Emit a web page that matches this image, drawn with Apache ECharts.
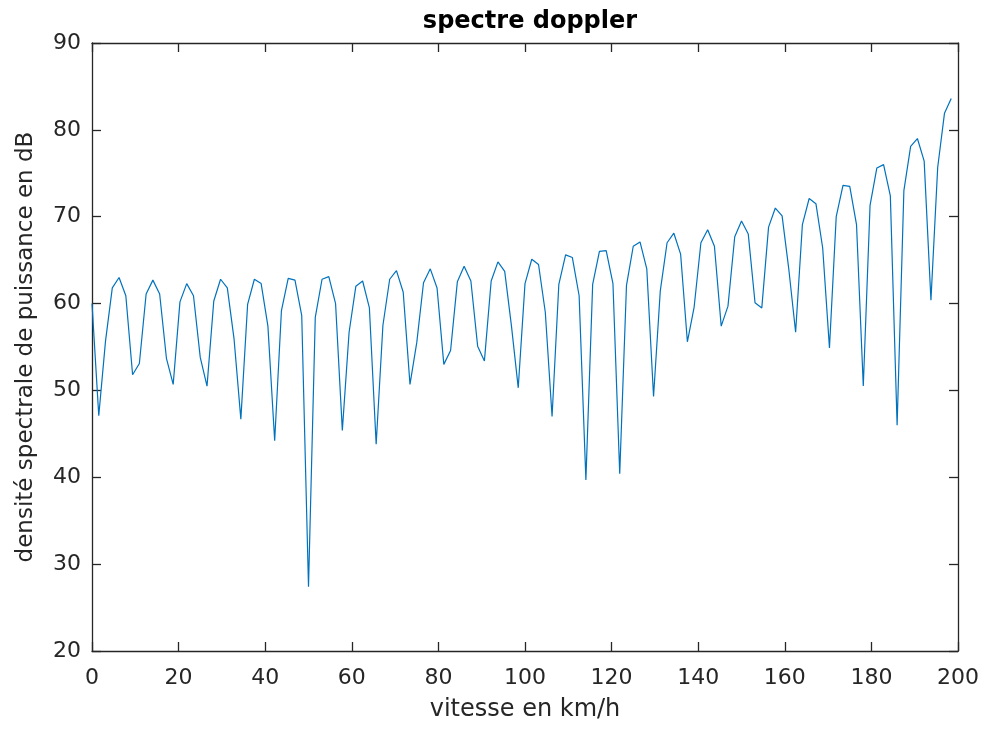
<!DOCTYPE html>
<html>
<head>
<meta charset="utf-8">
<script src="https://cdn.jsdelivr.net/npm/echarts@6/dist/echarts.min.js"></script>
<style>
  html, body { margin: 0; padding: 0; background: #ffffff; }
  #chart { width: 984px; height: 729px; }
</style>
</head>
<body>
<div id="chart"></div>
<script>
// Speed samples (km/h)
const speeds = [
  0, 1.5625, 3.125, 4.6875, 6.25, 7.8125, 9.375, 10.9375, 12.5, 14.0625, 15.625, 17.1875, 18.75, 20.3125, 21.875, 23.4375,
  25, 26.5625, 28.125, 29.6875, 31.25, 32.8125, 34.375, 35.9375, 37.5, 39.0625, 40.625, 42.1875, 43.75, 45.3125, 46.875, 48.4375,
  50, 51.5625, 53.125, 54.6875, 56.25, 57.8125, 59.375, 60.9375, 62.5, 64.0625, 65.625, 67.1875, 68.75, 70.3125, 71.875, 73.4375,
  75, 76.5625, 78.125, 79.6875, 81.25, 82.8125, 84.375, 85.9375, 87.5, 89.0625, 90.625, 92.1875, 93.75, 95.3125, 96.875, 98.4375,
  100, 101.5625, 103.125, 104.6875, 106.25, 107.8125, 109.375, 110.9375, 112.5, 114.0625, 115.625, 117.1875, 118.75, 120.3125, 121.875, 123.4375,
  125, 126.5625, 128.125, 129.6875, 131.25, 132.8125, 134.375, 135.9375, 137.5, 139.0625, 140.625, 142.1875, 143.75, 145.3125, 146.875, 148.4375,
  150, 151.5625, 153.125, 154.6875, 156.25, 157.8125, 159.375, 160.9375, 162.5, 164.0625, 165.625, 167.1875, 168.75, 170.3125, 171.875, 173.4375,
  175, 176.5625, 178.125, 179.6875, 181.25, 182.8125, 184.375, 185.9375, 187.5, 189.0625, 190.625, 192.1875, 193.75, 195.3125, 196.875, 198.4375
];

// Power spectral density (dB)
const psdDb = [
  60.0, 47.1, 55.7, 61.8, 63.0, 60.9, 51.8, 53.1, 61.1, 62.7, 61.1, 53.7, 50.7, 60.2, 62.3, 60.9,
  53.8, 50.5, 60.3, 62.8, 61.8, 55.9, 46.7, 59.9, 62.8, 62.3, 57.4, 44.2, 59.2, 62.9, 62.7, 58.6,
  27.4, 58.4, 62.8, 63.1, 60.0, 45.4, 56.7, 62.0, 62.6, 59.5, 43.8, 57.5, 62.8, 63.8, 61.3, 50.7,
  55.5, 62.4, 64.0, 61.8, 53.0, 54.6, 62.5, 64.3, 62.6, 55.1, 53.4, 62.6, 64.8, 63.7, 57.4, 50.3,
  62.3, 65.1, 64.5, 59.0, 47.0, 62.2, 65.6, 65.3, 60.9, 39.7, 62.2, 66.0, 66.1, 62.3, 40.4, 62.1,
  66.6, 67.1, 64.0, 49.3, 61.5, 67.0, 68.1, 65.7, 55.6, 59.6, 67.0, 68.5, 66.6, 57.4, 59.7, 67.7,
  69.5, 68.0, 60.1, 59.5, 68.8, 71.0, 70.1, 63.9, 56.7, 69.1, 72.1, 71.5, 66.4, 54.9, 70.0, 73.6,
  73.5, 69.1, 50.5, 71.3, 75.6, 76.0, 72.4, 46.0, 73.0, 78.1, 79.0, 76.4, 60.4, 75.7, 81.9, 83.6
];

const titleText = 'spectre doppler';
const xLabel = 'vitesse en km/h';
const yLabel = 'densité spectrale de puissance en dB';

const FONT = '"DejaVu Sans", "Liberation Sans", Arial, sans-serif';
const INK = '#262626';

const chart = echarts.init(document.getElementById('chart'), null, { renderer: 'canvas' });

const baseLine = { show: true, onZero: false, lineStyle: { color: INK, width: 1.3 } };
const innerTick = { show: true, inside: true, length: 9, lineStyle: { color: INK, width: 1.3 } };

// Plot box in pixels
const GRID = { left: 92, right: 26, top: 43, bottom: 78 };
const plotCenterX = GRID.left + (984 - GRID.left - GRID.right) / 2;

chart.setOption({
  animation: false,
  backgroundColor: '#ffffff',
  title: {
    text: titleText,
    left: plotCenterX,
    textAlign: 'center',
    top: 5,
    textStyle: { fontFamily: FONT, fontWeight: 'bold', fontSize: 24, color: '#000000' }
  },
  grid: Object.assign({ containLabel: false }, GRID),
  xAxis: [
    {
      type: 'value', min: 0, max: 200, interval: 20, position: 'bottom',
      name: xLabel, nameLocation: 'middle', nameGap: 47,
      nameTextStyle: { fontFamily: FONT, fontSize: 24, color: INK },
      axisLine: baseLine, axisTick: innerTick,
      axisLabel: { margin: 16, fontFamily: FONT, fontSize: 22, color: INK },
      splitLine: { show: false }
    },
    {
      type: 'value', min: 0, max: 200, interval: 20, position: 'top',
      axisLine: baseLine, axisTick: innerTick,
      axisLabel: { show: false }, splitLine: { show: false }
    }
  ],
  yAxis: [
    {
      type: 'value', min: 20, max: 90, interval: 10, position: 'left',
      name: yLabel, nameLocation: 'middle', nameGap: 54, nameRotate: 90,
      nameTextStyle: { fontFamily: FONT, fontSize: 23, color: INK },
      axisLine: baseLine, axisTick: innerTick,
      axisLabel: { margin: 11, fontFamily: FONT, fontSize: 22, color: INK },
      splitLine: { show: false }
    },
    {
      type: 'value', min: 20, max: 90, interval: 10, position: 'right',
      axisLine: baseLine, axisTick: innerTick,
      axisLabel: { show: false }, splitLine: { show: false }
    }
  ],
  series: [
    {
      type: 'line',
      xAxisIndex: 0, yAxisIndex: 0,
      data: speeds.map((v, i) => [v, psdDb[i]]),
      showSymbol: false,
      symbol: 'none',
      lineStyle: { color: '#0072BD', width: 1.2 },
      clip: true
    }
  ]
});
</script>
</body>
</html>
